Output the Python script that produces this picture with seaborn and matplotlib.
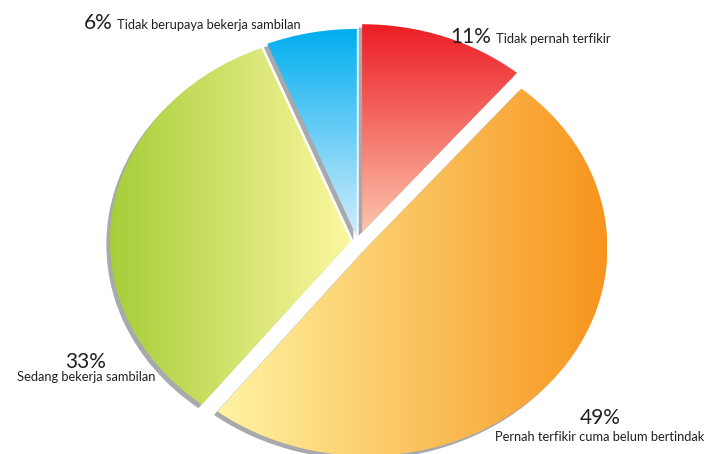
import numpy as np
import matplotlib
matplotlib.use("Agg")
import matplotlib.pyplot as plt
import matplotlib.transforms as mtransforms
from matplotlib.colors import LinearSegmentedColormap
import seaborn as sns

# Data (clockwise from 12 o'clock)
categories = ["Tidak pernah terfikir", "Pernah terfikir cuma belum bertindak",
              "Sedang bekerja sambilan", "Tidak berupaya bekerja sambilan"]
shares = [11, 49, 33, 6]
pct_labels = ["11%", "49%", "33%", "6%"]

sns.set_theme(style="white")
plt.rcParams["font.family"] = ["Lato", "DejaVu Sans"]

# Gradient for every slice: start colour, end colour, direction
gradients = [("#ed1c24", "#fbc5ad", "v"),
             ("#fff4a3", "#f7941d", "h"),
             ("#a6ce39", "#fdf7a0", "h"),
             ("#00aeef", "#d4edfd", "v")]
explode = [0.05, 0.045, 0.03, 0.025]
shadow_color = "#a7a9ac"

W, H = 714, 454
fig = plt.figure(figsize=(W / 100, H / 100), dpi=100)
ax = fig.add_axes([0, 0, 1, 1])

# Grey drop shadow (same pie shifted down-left)
shadow, _ = ax.pie(shares, explode=explode, startangle=90, counterclock=False,
                   colors=[shadow_color] * len(shares),
                   wedgeprops=dict(linewidth=0))
offset = mtransforms.ScaledTranslation(-0.035, -0.035, fig.dpi_scale_trans)
for w in shadow:
    w.set_transform(ax.transData + offset)

# Main slices with gradient fill
wedges, _ = ax.pie(shares, explode=explode, startangle=90, counterclock=False,
                   colors=["none"] * len(shares),
                   wedgeprops=dict(linewidth=0))
for w, (c0, c1, d) in zip(wedges, gradients):
    bb = w.get_path().get_extents()
    cmap = LinearSegmentedColormap.from_list("g", [c0, c1])
    if d == "h":
        arr = np.linspace(0, 1, 256).reshape(1, -1)
    else:
        arr = np.linspace(1, 0, 256).reshape(-1, 1)
    im = ax.imshow(arr, cmap=cmap, extent=(bb.x0, bb.x1, bb.y0, bb.y1),
                   origin="lower", aspect="auto", interpolation="bilinear",
                   zorder=w.get_zorder() + 0.1)
    im.set_clip_path(w)

# Elliptical pie: 1 unit = 241 px across, 208 px up
cx, cy, rx, ry = 358, 242, 241, 208
ax.set_aspect("auto")
ax.set_xlim(-cx / rx, (W - cx) / rx)
ax.set_ylim(-(H - cy) / ry, cy / ry)
ax.axis("off")

# Labels
def fx(px):
    return px / W

def fy(py):
    return 1 - py / H

big, small = 15, 9.3
ink = "#231f20"
fig.text(fx(113), fy(29), pct_labels[3], fontsize=big, ha="right", va="baseline", color=ink)
fig.text(fx(117), fy(29), categories[3], fontsize=small, ha="left", va="baseline", color=ink)
fig.text(fx(491), fy(43), pct_labels[0], fontsize=big, ha="right", va="baseline", color=ink)
fig.text(fx(496), fy(43), categories[0], fontsize=small, ha="left", va="baseline", color=ink)
fig.text(fx(86), fy(368), pct_labels[2], fontsize=big, ha="center", va="baseline", color=ink)
fig.text(fx(86), fy(381), categories[2], fontsize=small, ha="center", va="baseline", color=ink)
fig.text(fx(600), fy(424), pct_labels[1], fontsize=big, ha="center", va="baseline", color=ink)
fig.text(fx(600), fy(441), categories[1], fontsize=small, ha="center", va="baseline", color=ink)

fig.savefig("out.png", dpi=100)
